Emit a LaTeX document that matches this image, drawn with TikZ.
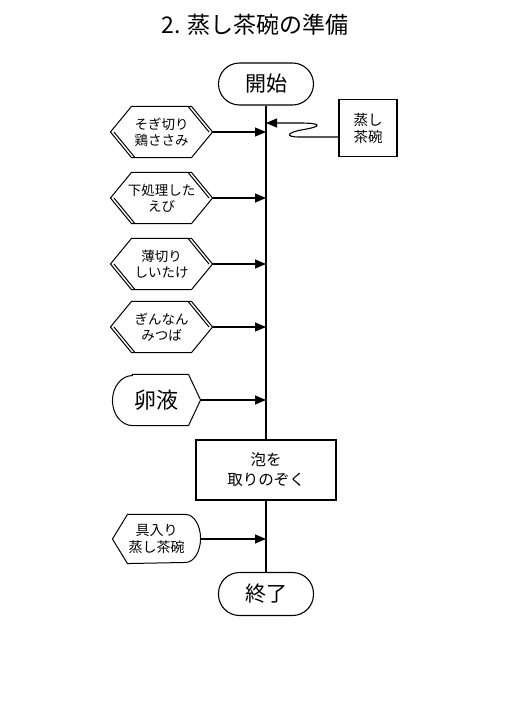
\documentclass[tikz,border=0pt]{standalone}
\usepackage{fontspec}
\setmainfont{Noto Sans CJK JP}
\usetikzlibrary{arrows.meta,positioning}

\begin{document}
\begin{tikzpicture}[x=1pt, y=-1pt, line width=1.1pt, >={Triangle[length=11pt,width=9pt]}]
    % Styles
    \tikzstyle{term} = [rectangle, draw, rounded corners=21pt, minimum width=95pt, minimum height=42pt, font=\fontsize{21}{22}\selectfont]
    \tikzstyle{prep} = [rectangle, minimum width=101pt, minimum height=50pt, align=center, font=\fontsize{13.5}{16}\selectfont]
    \tikzstyle{proc} = [rectangle, draw, align=center, font=\fontsize{15.5}{20}\selectfont]
    \tikzstyle{line} = [draw, ->]

    \useasboundingbox (0,0) rectangle (531,713);

    % Title
    \node (title) at (255,25) {\fontsize{23}{24}\selectfont 2. 蒸し茶碗の準備};

    % Nodes
    \coordinate (spine) at (266,0);
    \node [term] (start) at (266,84) {開始};
    \node [proc, minimum width=58pt, minimum height=57pt, font=\fontsize{14.5}{17}\selectfont] (bowl) at (368,128) {蒸し\\茶碗};
    \node [prep] (chicken) at (161.5,132) {そぎ切り\\鶏ささみ};
    \node [prep] (shrimp) at (161.5,198) {下処理した\\えび};
    \node [prep] (shiitake) at (161.5,264) {薄切り\\しいたけ};
    \node [prep] (ginkgo) at (161.5,327) {ぎんなん\\みつば};
    \node [rectangle, minimum width=87pt, minimum height=50pt, font=\fontsize{22}{22}\selectfont] (egg) at (156.5,400) {卵液};
    \node [proc, minimum width=140pt, minimum height=60pt] (skim) at (266,470) {泡を\\取りのぞく};
    \node [rectangle, minimum width=87pt, minimum height=48pt, align=center, font=\fontsize{14}{17}\selectfont] (served) at (156.5,539) {具入り\\蒸し茶碗};
    \node [term, minimum height=43pt] (finish) at (266,594) {終了};

    % Outlines
    \foreach \n in {chicken,shrimp,shiitake,ginkgo} {
        \draw [line width=1pt] (\n.west) -- ([xshift=21pt]\n.north west) -- ([xshift=-21pt]\n.north east) -- (\n.east)
            -- ([xshift=-21pt]\n.south east) -- ([xshift=21pt]\n.south west) -- cycle;
        \draw [line width=1pt] ([xshift=3.5pt]\n.west) -- ([xshift=24.5pt]\n.south west);
        \draw [line width=1pt] ([xshift=-24.5pt]\n.north east) -- ([xshift=-3.5pt]\n.east);
    }
    \draw [line width=1pt] ([xshift=20pt]egg.north west) -- ([xshift=-12pt]egg.north east) -- (egg.east)
        -- ([xshift=-12pt]egg.south east) -- ([xshift=20pt]egg.south west)
        arc [start angle=270, end angle=90, x radius=20pt, y radius=25pt] -- cycle;
    \draw [line width=1pt] (served.west) -- ([xshift=15pt]served.north west) -- ([xshift=-15pt]served.north east)
        arc [start angle=90, end angle=-90, x radius=15pt, y radius=24pt] -- ([xshift=15pt]served.south west) -- cycle;

    % Edges
    \draw (start.south) -- (skim.north);
    \draw (skim.south) -- (finish.north);
    \foreach \n in {chicken,shrimp,shiitake,ginkgo,egg,served}
        \path [line] (\n.east) -- (\n.east -| spine);

    % Bowl comes in with a squiggle
    \coordinate (bowlout) at (339,137);
    \coordinate (bowlin) at (266,123);
    \draw [->] (bowlout) -- (300,137) .. controls (283,137) and (288,132) .. (304,129.5)
        .. controls (324,126) and (320,123) .. (300,123) -- (bowlin);
\end{tikzpicture}
\end{document}
